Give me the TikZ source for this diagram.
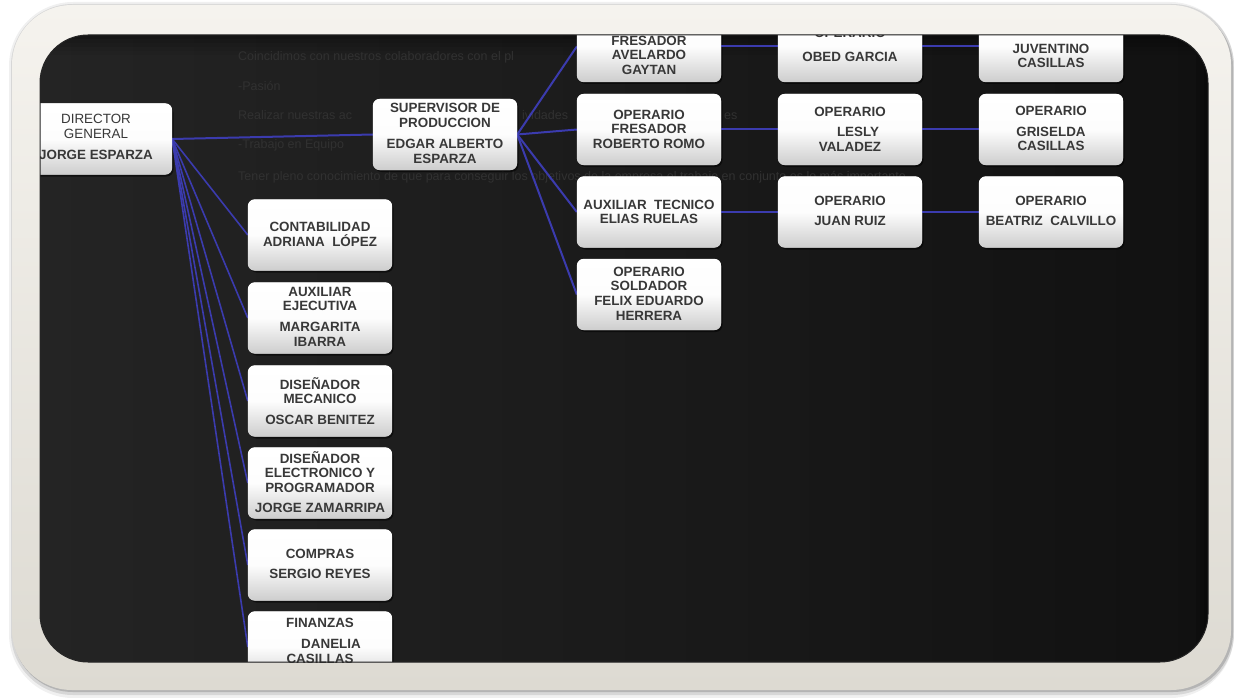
\documentclass[tikz,border=0pt]{standalone}
\usepackage{fontspec}
\setmainfont{Liberation Sans}
\usetikzlibrary{shadows}
\definecolor{creamtop}{HTML}{F5F3EE}
\definecolor{creambot}{HTML}{DDDAD2}
\definecolor{boardL}{HTML}{242424}
\definecolor{boardR}{HTML}{111111}
\definecolor{boxgray}{HTML}{CDCDCD}
\definecolor{inkgray}{HTML}{383838}
\definecolor{linkblue}{HTML}{3B3BAE}
\definecolor{ghost}{HTML}{313131}
\tikzset{
  orgbox/.style={rounded corners=7pt, minimum width=144pt, minimum height=71pt,
    inner sep=0pt, top color=white, bottom color=boxgray, middle color=white!96!boxgray,
    drop shadow={shadow xshift=1.5pt, shadow yshift=-2pt, opacity=.55, fill=black}},
  orgtxt/.style={align=center, inner sep=0pt, text=inkgray,
    font=\bfseries\fontsize{13.4}{14.6}\selectfont},
  link/.style={draw=linkblue, line width=2pt},
  fanlink/.style={draw=linkblue, line width=1.6pt},
  ghosttxt/.style={anchor=base west, inner sep=0pt, text=ghost,
    font=\fontsize{12.5}{14}\selectfont},
}
\begin{document}
\begin{tikzpicture}[x=1pt, y=-1pt]
\useasboundingbox (0,0) rectangle (1234,698);
\fill[white] (0,0) rectangle (1234,698);

% soft shadow around the frame
\fill[black, opacity=.06, rounded corners=64pt] (9,2) rectangle (1234,698);
\fill[black, opacity=.10, rounded corners=62pt] (11,4) rectangle (1234,695);
\fill[black, opacity=.16, rounded corners=60pt] (13,7) rectangle (1233,692);

% cream frame
\shade[top color=creamtop, bottom color=creambot, rounded corners=60pt]
  (12,5) rectangle (1231,690);

% black board
\shade[left color=boardL, right color=boardR, rounded corners=48pt]
  (40,35) rectangle (1208,662);

\begin{scope}
\clip[rounded corners=48pt] (40,35) rectangle (1208,662);

% darker band along the upper and right inner edges
\foreach \d/\o in {0/.35,4/.25,8/.18,12/.1,16/.05}{
  \fill[black, opacity=\o] (40,35+\d) rectangle (1208,39+\d);
}
\foreach \d/\o in {0/.4,4/.25,8/.12}{
  \fill[black, opacity=\o] (1204-\d,35) rectangle (1208-\d,662);
}

% faint slide text behind the chart (only the parts left uncovered)
\node[ghosttxt] (g1) at (238,61) {Coincidimos con nuestros colaboradores con el pl};
\node[ghosttxt] (g2) at (238,91) {-Pasión};
\node[ghosttxt] (g3a) at (238,120) {Realizar nuestras ac};
\node[ghosttxt] (g3b) at (522,120) {ividades};
\node[ghosttxt] (g3c) at (724,120) {es};
\node[ghosttxt] (g4) at (238,149) {-Trabajo en Equipo};
\node[ghosttxt] (g5) at (238,180) {Tener pleno conocimiento de que para conseguir los objetivos de la empresa el trabajo en conjunto es lo más importante};

% boxes
\node[orgbox] (dir) at (100,139) {};
\node[orgbox] (sup) at (445,134.5) {};
\node[orgbox] (l1) at (320,235) {};
\node[orgbox] (l2) at (320,318) {};
\node[orgbox] (l3) at (320,401) {};
\node[orgbox] (l4) at (320,483) {};
\node[orgbox] (l5) at (320,565) {};
\node[orgbox] (l6) at (320,647) {};
\node[orgbox] (c2r1) at (649,46.5) {};
\node[orgbox] (c2r2) at (649,129.5) {};
\node[orgbox] (c2r3) at (649,212) {};
\node[orgbox] (c2r4) at (649,294.5) {};
\node[orgbox] (c3r1) at (850,46.5) {};
\node[orgbox] (c3r2) at (850,129.5) {};
\node[orgbox] (c3r3) at (850,212) {};
\node[orgbox] (c4r1) at (1051,46.5) {};
\node[orgbox] (c4r2) at (1051,129.5) {};
\node[orgbox] (c4r3) at (1051,212) {};

% connectors
\draw[link] (dir.east) -- (sup.west);
\foreach \t in {l1,l2,l3,l4,l5,l6}{
  \draw[fanlink] (dir.east) -- (\t.west);
}
\foreach \t in {c2r1,c2r2,c2r3,c2r4}{
  \draw[link] (sup.east) -- (\t.west);
}
\draw[link] (c2r1.east) -- (c3r1.west);
\draw[link] (c3r1.east) -- (c4r1.west);
\draw[link] (c2r2.east) -- (c3r2.west);
\draw[link] (c3r2.east) -- (c4r2.west);
\draw[link] (c2r3.east) -- (c3r3.west);
\draw[link] (c3r3.east) -- (c4r3.west);

% redraw box faces over the connector ends
\foreach \b in {dir,sup,l1,l2,l3,l4,l5,l6,c2r1,c2r2,c2r3,c2r4,c3r1,c3r2,c3r3,c4r1,c4r2,c4r3}{
  \shade[top color=white, bottom color=boxgray, middle color=white!96!boxgray, rounded corners=7pt]
    (\b.south west) rectangle (\b.north east);
}

% labels
\node[orgtxt] (dirT) at (96,137) {\mdseries DIRECTOR\\\mdseries GENERAL\\[7pt]JORGE ESPARZA};
\node[orgtxt] (supT) at (445,133.5) {SUPERVISOR DE\\PRODUCCION\\[7pt]EDGAR ALBERTO\\ESPARZA};
\node[orgtxt] (l1T) at (320,234.5) {CONTABILIDAD\\ADRIANA\ \ LÓPEZ};
\node[orgtxt] (l2T) at (320,316.5) {AUXILIAR\\EJECUTIVA\\[6pt]MARGARITA\\IBARRA};
\node[orgtxt] (l3T) at (320,401) {DISEÑADOR\\MECANICO\\[6pt]OSCAR BENITEZ};
\node[orgtxt] (l4T) at (320,482) {DISEÑADOR\\ELECTRONICO Y\\PROGRAMADOR\\[6pt]JORGE ZAMARRIPA};
\node[orgtxt] (l5T) at (320,564) {COMPRAS\\[6pt]SERGIO REYES};
\node[orgtxt] (l6T) at (320,641) {FINANZAS\\[6pt]\hspace*{22pt}DANELIA\\[1pt]CASILLAS};
\node[orgtxt] (c2r1T) at (649,55) {FRESADOR\\AVELARDO\\GAYTAN};
\node[orgtxt] (c2r2T) at (649,129) {OPERARIO\\FRESADOR\\ROBERTO ROMO};
\node[orgtxt] (c2r3T) at (649,212) {AUXILIAR\ \ TECNICO\\ELIAS RUELAS};
\node[orgtxt] (c2r4T) at (649,293.5) {OPERARIO\\SOLDADOR\\FELIX EDUARDO\\HERRERA};
\node[orgtxt] (c3r1T) at (850,45) {OPERARIO\\[9pt]OBED GARCIA};
\node[orgtxt] (c3r2T) at (850,129) {OPERARIO\\[6pt]\hspace*{16pt}LESLY\\VALADEZ};
\node[orgtxt] (c3r3T) at (850,211) {OPERARIO\\[6pt]JUAN RUIZ};
\node[orgtxt] (c4r1T) at (1051,56) {JUVENTINO\\CASILLAS};
\node[orgtxt] (c4r2T) at (1051,128.5) {OPERARIO\\[6pt]GRISELDA\\CASILLAS};
\node[orgtxt] (c4r3T) at (1051,211) {OPERARIO\\[6pt]BEATRIZ\ \ CALVILLO};
\end{scope}

% thin dark rim of the board
\draw[black!85, line width=1pt, rounded corners=48pt] (40,35) rectangle (1208,662);
\end{tikzpicture}
\end{document}
